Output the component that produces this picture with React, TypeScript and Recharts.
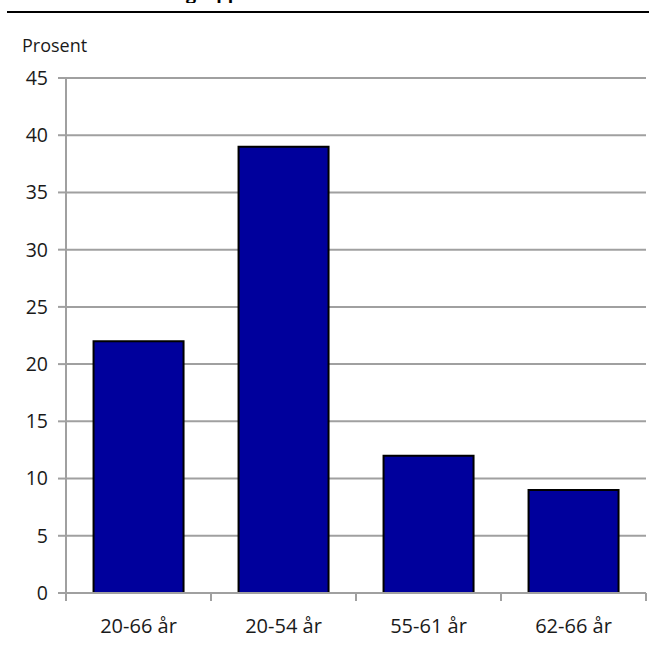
import React from 'react';
import { BarChart, Bar, XAxis, YAxis, CartesianGrid } from 'recharts';

const categories = ['20-66 år', '20-54 år', '55-61 år', '62-66 år'];
const shares = [22, 39, 12, 9];
const yTicks = [0, 5, 10, 15, 20, 25, 30, 35, 40, 45];
const edgeTicks = [0, 1, 2, 3, 4];

const data = categories.map((name, i) => ({ name, value: shares[i], pos: i + 0.5 }));

const FONT = '"Open Sans", sans-serif';
const GRID = '#a0a0a0';
const TEXT = '#1a1a1a';

// boundary ticks only need their tick lines, no label
const NoLabel = () => <g />;

export default function App() {
  return (
    <div style={{ position: 'absolute', left: 0, top: 0, width: 649, height: 652, background: '#fff', fontFamily: FONT }}>
      {/* title above the rule, mostly cut off in the original */}
      <div style={{ position: 'absolute', left: 0, top: 0, width: 649, height: 3, overflow: 'hidden' }}>
        <div style={{ position: 'absolute', left: 64, top: -19, fontWeight: 700, fontSize: 18, whiteSpace: 'nowrap', color: '#000' }}>
          Andel i aldersgrupper
        </div>
      </div>
      <div style={{ position: 'absolute', left: 7, top: 11, width: 642, height: 2, background: '#000' }} />
      <div style={{ position: 'absolute', left: 22, top: 33, fontSize: 18, color: TEXT }}>Prosent</div>
      <BarChart width={649} height={652} data={data} margin={{ top: 78, right: 3, bottom: 0, left: 8 }} barCategoryGap="19%">
        <CartesianGrid xAxisId={1} vertical={false} stroke={GRID} strokeWidth={2} />
        {/* axis 0: category boundary ticks, sits right on the plot edge */}
        <XAxis
          xAxisId={0}
          dataKey="pos"
          type="number"
          domain={[0, 4]}
          ticks={edgeTicks}
          height={1}
          axisLine={{ stroke: GRID, strokeWidth: 2 }}
          tickLine={{ stroke: GRID, strokeWidth: 2 }}
          tickSize={8}
          tick={NoLabel}
          allowDataOverflow
        />
        <XAxis
          xAxisId={1}
          dataKey="name"
          height={58}
          axisLine={false}
          tickLine={false}
          tickMargin={19}
          tick={{ fill: TEXT, fontSize: 20, fontFamily: FONT }}
        />
        <YAxis
          domain={[0, 45]}
          ticks={yTicks}
          width={58}
          axisLine={{ stroke: GRID, strokeWidth: 2 }}
          tickLine={{ stroke: GRID, strokeWidth: 2 }}
          tickSize={8}
          tickMargin={10}
          tick={{ fill: TEXT, fontSize: 19.5, fontFamily: FONT }}
        />
        <Bar xAxisId={1} dataKey="value" fill="#00009c" stroke="#000" strokeWidth={2} isAnimationActive={false} />
        <Bar xAxisId={0} dataKey="pos" fill="none" stroke="none" barSize={0} legendType="none" isAnimationActive={false} />
      </BarChart>
    </div>
  );
}
